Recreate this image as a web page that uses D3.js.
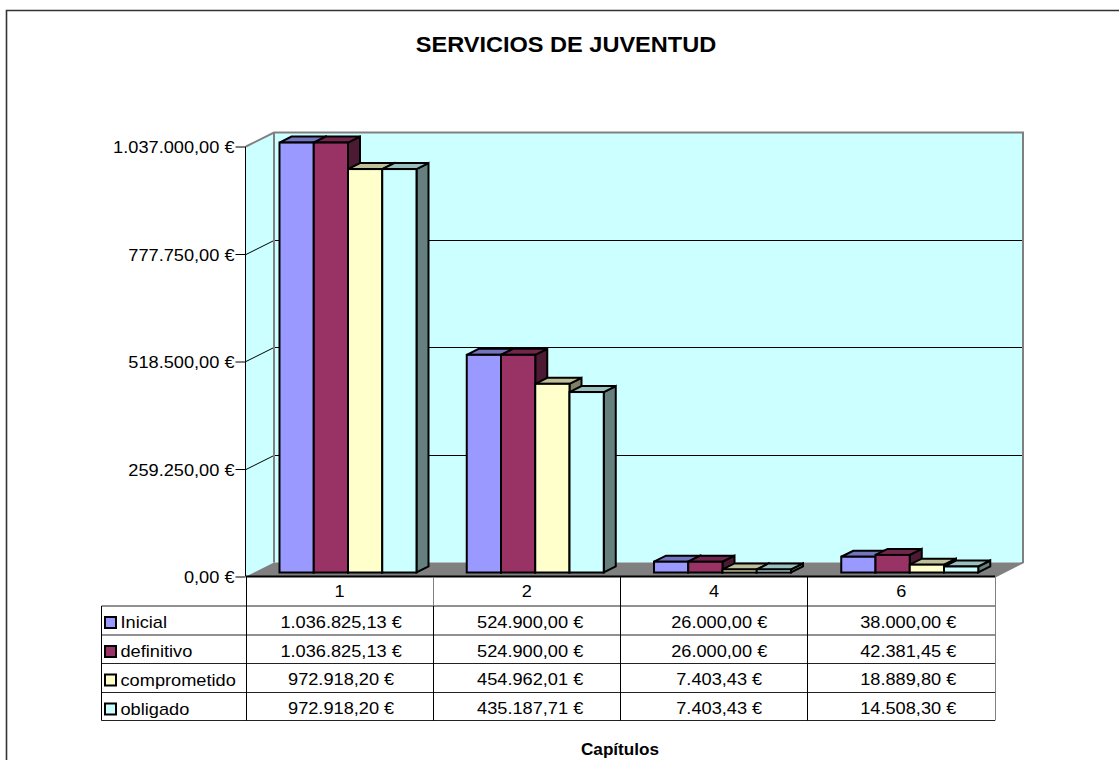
<!DOCTYPE html>
<html><head><meta charset="utf-8">
<script src="https://cdnjs.cloudflare.com/ajax/libs/d3/7.8.5/d3.min.js"></script>
<style>html,body{margin:0;padding:0;background:#fff;overflow:hidden}svg{display:block}text{font-family:"Liberation Sans",Arial,sans-serif;fill:#000}</style>
</head><body><svg id="c" width="1119" height="760"></svg>
<script>
const title = "SERVICIOS DE JUVENTUD";
const xTitle = "Capítulos";
const categories = ["1","2","4","6"];
const seriesNames = ["Inicial","definitivo","comprometido","obligado"];
const inicial = [1036825.13,524900,26000,38000];
const definitivo = [1036825.13,524900,26000,42381.45];
const comprometido = [972918.20,454962.01,7403.43,18889.80];
const obligado = [972918.20,435187.71,7403.43,14508.30];
const colors = ["#9999FF","#993366","#FFFFCC","#CCFFFF"];
const yTicks = [0,259250,518500,777750,1037000];
const allSeries = [inicial,definitivo,comprometido,obligado];

const fmt = v => new Intl.NumberFormat("de-DE",{minimumFractionDigits:2,maximumFractionDigits:2}).format(v)+" €";
const svg = d3.select("#c");
const y = d3.scaleLinear().domain([0,1037000]).range([576.5,146.5]);
const xFront = d3.scaleBand().domain(categories).range([246,995]);
const DX=28, DY=14;
const snap = v => Math.round(v-0.5)+0.5;

// frame: only the top and left edges are visible
svg.append("path").attr("d","M6.5,760V10.5H1119").attr("fill","none").attr("stroke","#333").attr("stroke-width",1.6);

// titles
svg.append("text").attr("x",566).attr("y",52).attr("text-anchor","middle").attr("font-size",22).attr("font-weight","bold").text(title);
svg.append("text").attr("x",620).attr("y",755).attr("text-anchor","middle").attr("font-size",16).attr("font-weight","bold").text(xTitle);

// walls
const x0=246,x1=995,yb=y(0),yt=y(1037000);
svg.append("path").attr("d",`M${x0},${yb}L${x0+DX},${yb-DY}V${yt-DY}L${x0},${yt}Z`).attr("fill","#CCFFFF");
svg.append("rect").attr("x",x0+DX).attr("y",yt-DY).attr("width",x1-x0).attr("height",yb-yt).attr("fill","#CCFFFF");
svg.append("path").attr("d",`M${x0},${yb}L${x0+DX},${yb-DY}H${x1+DX}L${x1},${yb}Z`).attr("fill","#808080");
// gridlines
yTicks.slice(1,-1).forEach(t=>{
  svg.append("path").attr("d",`M${x0},${snap(y(t))}L${x0+DX},${snap(y(t))-DY}H${x1+DX}`).attr("fill","none").attr("stroke","#000");
});
// wall outline
svg.append("path").attr("d",`M${x0},${yt}L${x0+DX},${yt-DY}H${x1+DX}V${yb-DY}L${x1},${yb}`).attr("fill","none").attr("stroke","#808080").attr("stroke-width",2);
svg.append("path").attr("d",`M${x0+DX},${yt-DY}V${yb-DY}`).attr("stroke","#808080").attr("stroke-width",2).attr("fill","none");

// y axis
const axisG = svg.append("g").attr("transform",`translate(${x0-0.5},0)`).call(d3.axisLeft(y).tickValues(yTicks).tickSize(10).tickPadding(1).tickFormat(fmt));
axisG.selectAll("text").attr("font-size",17).attr("font-family",'"Liberation Sans",Arial,sans-serif').attr("dy","0.36em");
axisG.selectAll("line,path").attr("stroke","#000");
axisG.select(".domain").attr("d",`M0,${yt}V${yb}`);

// bars
const depthX=12, depthY=6, barDY=4;
const inner = d3.scaleBand().domain(seriesNames).range([0,137]);
const shade=(c,k)=>{const r=d3.rgb(c);return d3.rgb(r.r*k,r.g*k,r.b*k).formatHex();};
categories.forEach((cat,ci)=>{
  const gx=xFront(cat)+33.5;
  seriesNames.forEach((s,si)=>{
    const v=allSeries[si][ci];
    const bx=gx+inner(s), w=inner.bandwidth();
    const by=y(v)-barDY, b0=y(0)-barDY;
    const g=svg.append("g").attr("stroke","#000").attr("stroke-width",2).attr("stroke-linejoin","miter");
    g.append("path").attr("d",`M${bx+w},${by}l${depthX},${-depthY}V${b0-depthY}L${bx+w},${b0}Z`).attr("fill",shade(colors[si],0.5));
    g.append("path").attr("d",`M${bx},${by}l${depthX},${-depthY}h${w}l${-depthX},${depthY}Z`).attr("fill",shade(colors[si],0.75));
    g.append("rect").attr("x",bx).attr("y",by).attr("width",w).attr("height",b0-by).attr("fill",colors[si]);
  });
});

// data table
const rowY=[576.5,606,635,663.5,692.5,720.5];
const tx=[101.5,246,433,620,807,995];
const tbl=svg.append("g").attr("stroke","#000").attr("fill","none");
rowY.forEach((r,i)=>tbl.append("path").attr("d",`M${i==0?246:101.5},${r}H995`).attr("stroke-width",i==0?2:1).attr("stroke",i==0?"#000":"#222"));
tx.forEach((c,i)=>tbl.append("path").attr("d",`M${c+.5*(i?1:0)},${i==0?606:576.5}V720.5`).attr("stroke",(i==5)?"#808080":"#000"));
svg.append("path").attr("d","M433.5,577V606").attr("stroke","#808080");
categories.forEach((cat,ci)=>{
  const cx=xFront(cat)+xFront.bandwidth()/2;
  svg.append("text").attr("x",cx).attr("y",597).attr("text-anchor","middle").attr("font-size",17).text(cat);
  seriesNames.forEach((s,si)=>{
    svg.append("text").attr("x",cx+1.5+ci*1.8).attr("y",rowY[si+1]+21.5).attr("text-anchor","middle").attr("font-size",17).text(fmt(allSeries[si][ci]));
  });
});
seriesNames.forEach((s,si)=>{
  svg.append("rect").attr("x",105).attr("y",rowY[si+1]+11).attr("width",11).attr("height",11).attr("fill",colors[si]).attr("stroke","#000").attr("stroke-width",2);
  svg.append("text").attr("x",120.5).attr("y",rowY[si+1]+22).attr("font-size",17).text(s);
});
// slight horizontal stretch of every label, as in the source picture
svg.selectAll("text").each(function(){
  const n=this.getComputedTextLength();
  this.setAttribute("textLength",(n*1.07).toFixed(1));
  this.setAttribute("lengthAdjust","spacingAndGlyphs");
});
</script></body></html>
